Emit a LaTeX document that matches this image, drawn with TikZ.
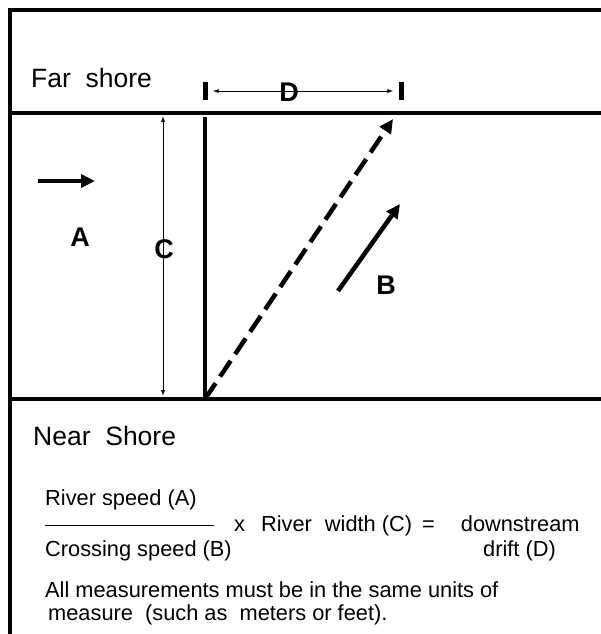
\documentclass[tikz,border=0pt]{standalone}
\usepackage{fontspec}
\setmainfont{Liberation Sans}
\usetikzlibrary{arrows.meta,positioning,calc}

\begin{document}
\begin{tikzpicture}[
  x=1pt,y=-1pt,>={Latex[length=2mm]},
  shore/.style={line width=3.5pt},
  thick arrow/.style={-{Triangle[length=14pt,width=13pt]},line width=4.5pt},
  path arrow/.style={thick arrow,dash pattern=on 19pt off 8pt},
  dim/.style={{Latex[length=6pt,width=4pt]}-{Latex[length=6pt,width=4pt]},line width=.8pt},
  tickmark/.style={fill=black,inner sep=0pt,minimum width=5pt,minimum height=18pt},
  head/.style={font=\fontsize{26.5}{31}\selectfont,anchor=base west,inner sep=0pt},
  txt/.style={font=\fontsize{21.8}{26}\selectfont,anchor=base west,inner sep=0pt},
  lbl/.style={font=\fontsize{27}{32}\selectfont\bfseries,inner sep=0pt}]
\useasboundingbox (0,0) rectangle (601,634);
% frame and shores
\coordinate (cornerBL) at (10,634);
\coordinate (cornerTL) at (10,10);
\coordinate (cornerTR) at (601,10);
\coordinate (farL) at (10,113);
\coordinate (farR) at (601,113);
\coordinate (nearL) at (10,399);
\coordinate (nearR) at (601,399);
\draw[shore] (cornerBL)--(cornerTL)--(cornerTR);
\draw[shore] (farL)--(farR);
\draw[shore] (nearL)--(nearR);
\node[head] (far) at (31,87) {Far\ \ shore};
\node[head] (near) at (33,445) {Near\ \ Shore};
% crossing
\coordinate (start) at (205,399);
\coordinate (aim) at (205,117);
\coordinate (land) at (393,119);
\draw[line width=4pt] (start)--(aim);
\draw[path arrow] (start)--(land);
% drift D
\node[tickmark] (tickL) at (205,91) {};
\node[tickmark] (tickR) at (401,91) {};
\draw[dim] ($(tickL.east)+(5,0)$)--($(tickR.west)+(-5,0)$);
\node[lbl] (labD) at (289,92) {D};
% width C
\coordinate (cTop) at (163,116);
\coordinate (cBot) at (163,396);
\draw[dim] (cTop)--(cBot);
\node[lbl] (labC) at (164,249) {C};
% river speed A
\coordinate (aTail) at (38,181);
\coordinate (aHead) at (95,181);
\draw[thick arrow] (aTail)--(aHead);
\node[lbl] (labA) at (80,237) {A};
% crossing speed B
\coordinate (bTail) at (338,291);
\coordinate (bHead) at (400,204);
\draw[thick arrow] (bTail)--(bHead);
\node[lbl] (labB) at (386,285) {B};
% formula
\node[txt] (num) at (45,505) {River speed (A)};
\node[txt] (den) at (45,556) {Crossing speed (B)};
\draw[line width=1pt] ($(den.base west)+(0,-31)$)--++(169,0);
\node[txt] (times) at (234,531)
 {x\hspace{16pt}River\hspace{13pt}width (C)\hspace{10pt}=\hspace{26pt}downstream};
\node[txt] (drift) at (483,556) {drift (D)};
\node[txt] (note1) at (45,597) {All measurements must be in the same units of};
\node[txt] (note2) at (48,620) {measure\ \ (such as\ \ meters or feet).};
\end{tikzpicture}
\end{document}
